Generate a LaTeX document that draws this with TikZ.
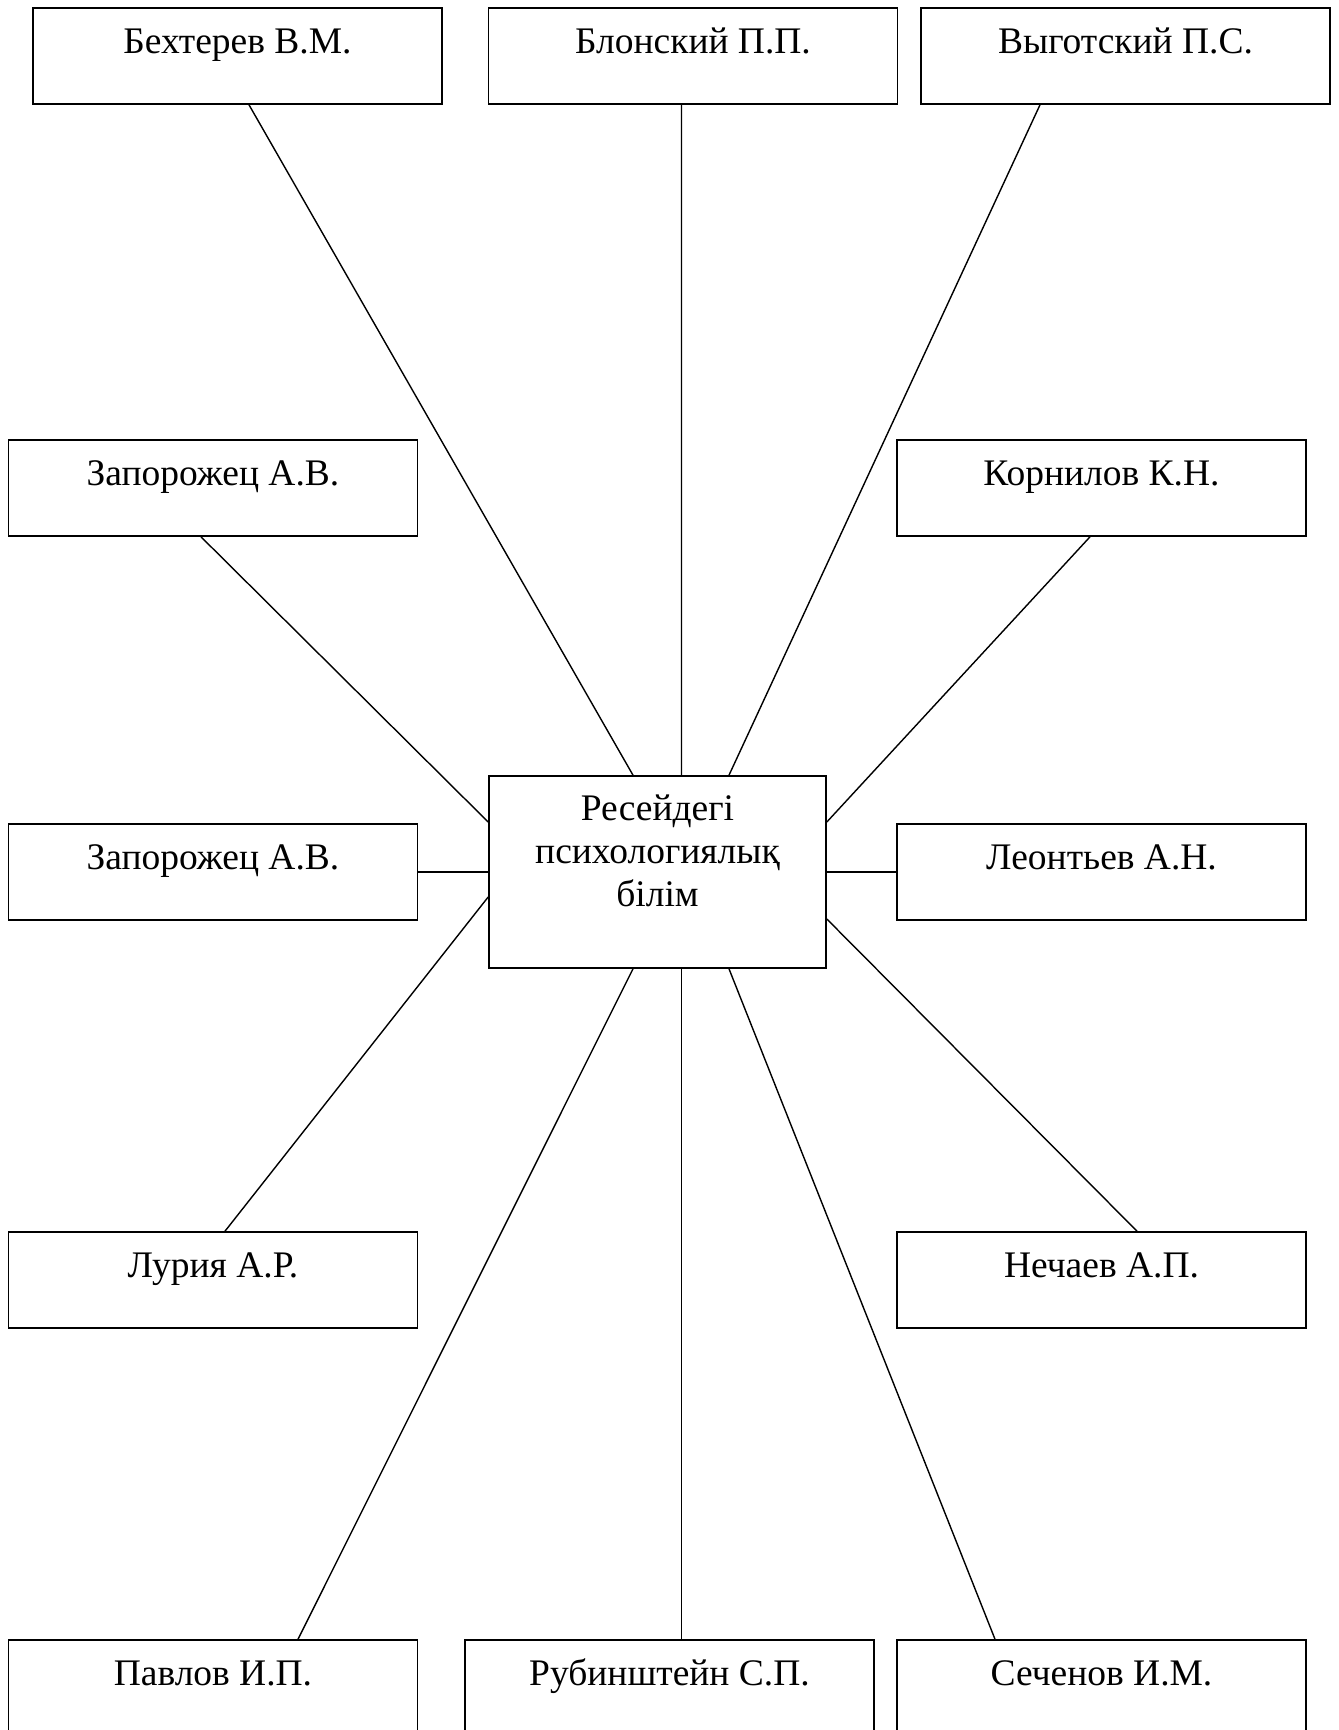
\documentclass[tikz,border=0pt]{standalone}
\usepackage{fontspec}
\setmainfont{Liberation Serif}
\usetikzlibrary{calc}

\tikzset{
    namebox/.style={draw, line width=0.7pt, inner sep=0pt, minimum width=6.135cm,
        text height=0.675cm, text depth=0.765cm, align=center,
        font=\fontsize{16}{18.3}\selectfont},
    rusbox/.style={draw, line width=0.7pt, inner sep=0pt, minimum width=5.055cm,
        text height=1.96cm, text depth=0.92cm, align=center,
        font=\fontsize{16}{18.3}\selectfont},
    link/.style={line width=0.6pt}
}

\begin{document}
\begin{tikzpicture}[x=0.015cm, y=-0.015cm]
    \useasboundingbox (0,0) rectangle (1338,1730);
    % центр
    \node[rusbox] (rus) at (657.5,872) {Ресейдегі\\психологиялық\\білім};
    % жоғарғы қатар
    \node[namebox] (bekh) at (237.5,56)  {Бехтерев В.М.};
    \node[namebox] (blon) at (693,56)    {Блонский П.П.};
    \node[namebox] (vyg)  at (1125.5,56) {Выготский П.С.};
    % сол және оң жақ
    \node[namebox] (zap1) at (213,488)    {Запорожец А.В.};
    \node[namebox] (korn) at (1101.5,488) {Корнилов К.Н.};
    \node[namebox] (zap2) at (213,872)    {Запорожец А.В.};
    \node[namebox] (leon) at (1101.5,872) {Леонтьев А.Н.};
    \node[namebox] (lur)  at (213,1280)   {Лурия А.Р.};
    \node[namebox] (nech) at (1101.5,1280) {Нечаев А.П.};
    % төменгі қатар
    \node[namebox] (pav)  at (213,1688)    {Павлов И.П.};
    \node[namebox] (rub)  at (669.5,1688)  {Рубинштейн С.П.};
    \node[namebox] (sech) at (1101.5,1688) {Сеченов И.М.};
    % сызықтар
    \draw[link] ($(bekh.south)+(11.5,0)$) -- ($(rus.north)+(-24.5,0)$);
    \draw[link] ($(blon.south)+(-11.5,0)$) -- ($(rus.north)+(24,0)$);
    \draw[link] ($(vyg.south)+(-85.5,0)$) -- ($(rus.north)+(71.5,0)$);
    \draw[link] ($(zap1.south)+(-12,0)$) -- ($(rus.west)+(0,-50)$);
    \draw[link] ($(korn.south)+(-11.5,0)$) -- ($(rus.east)+(0,-50)$);
    \draw[link] (zap2.east) -- (rus.west);
    \draw[link] (rus.east) -- (leon.west);
    \draw[link] ($(lur.north)+(12,0)$) -- ($(rus.west)+(0,25)$);
    \draw[link] ($(nech.north)+(35.5,0)$) -- ($(rus.east)+(0,47)$);
    \draw[link] ($(pav.north)+(85,0)$) -- ($(rus.south)+(-24.5,0)$);
    \draw[link] ($(rub.north)+(12,0)$) -- ($(rus.south)+(24,0)$);
    \draw[link] ($(sech.north)+(-106.5,0)$) -- ($(rus.south)+(71.5,0)$);
\end{tikzpicture}
\end{document}
